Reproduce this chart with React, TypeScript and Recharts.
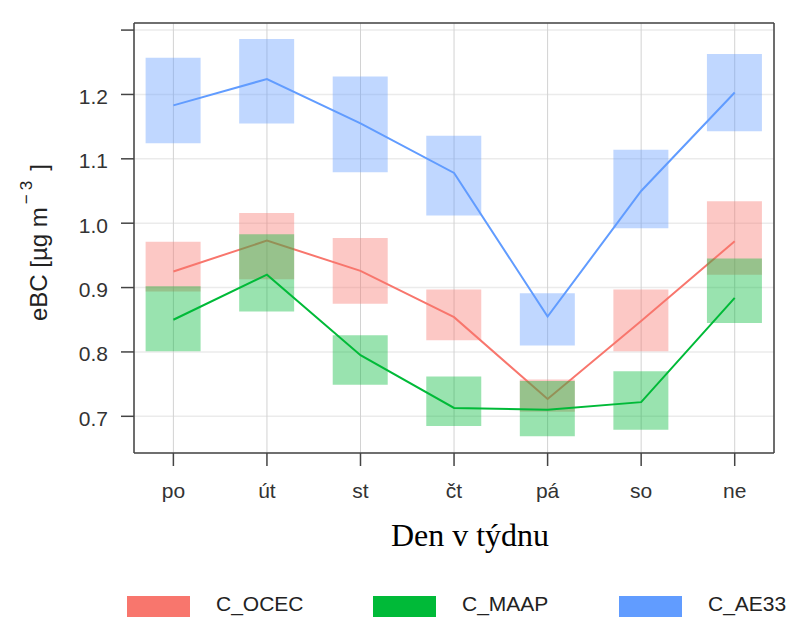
import React from "react";
import {
  ComposedChart,
  Bar,
  Line,
  XAxis,
  YAxis,
  CartesianGrid,
} from "recharts";

// weekday labels (Czech) and their positions on the numeric axis
const days = ["po", "út", "st", "čt", "pá", "so", "ne"];
const dayIdx = [1, 2, 3, 4, 5, 6, 7];

// C_OCEC: mean and confidence box
const ocecMean = [0.925, 0.973, 0.926, 0.854, 0.727, 0.848, 0.972];
const ocecLow = [0.894, 0.913, 0.875, 0.818, 0.707, 0.801, 0.92];
const ocecHigh = [0.971, 1.016, 0.977, 0.897, 0.757, 0.897, 1.034];

// C_MAAP
const maapMean = [0.85, 0.92, 0.795, 0.713, 0.71, 0.722, 0.884];
const maapLow = [0.801, 0.863, 0.749, 0.685, 0.669, 0.679, 0.845];
const maapHigh = [0.902, 0.983, 0.826, 0.762, 0.755, 0.77, 0.945];

// C_AE33
const ae33Mean = [1.183, 1.224, 1.155, 1.078, 0.855, 1.05, 1.203];
const ae33Low = [1.124, 1.155, 1.079, 1.012, 0.81, 0.992, 1.143];
const ae33High = [1.257, 1.286, 1.228, 1.136, 0.891, 1.114, 1.263];

const yTicks = [0.7, 0.8, 0.9, 1.0, 1.1, 1.2, 1.3];

const seriesNames = ["C_OCEC", "C_MAAP", "C_AE33"];
const seriesColors = ["#F8766D", "#00BA38", "#619CFF"];

const xDomain = [0.579, 7.42];
const yDomain = [0.643, 1.311];

const data = days.map((d, i) => ({
  day: dayIdx[i],
  ocec: ocecMean[i],
  ocecBox: [ocecLow[i], ocecHigh[i]],
  maap: maapMean[i],
  maapBox: [maapLow[i], maapHigh[i]],
  ae33: ae33Mean[i],
  ae33Box: [ae33Low[i], ae33High[i]],
}));

const FONT = "'Liberation Sans', Arial, sans-serif";
const FRAME = "#444";

const App = () => {
  const tickStyle = { fontSize: 21, fill: "#333", fontFamily: FONT };

  return (
    <div style={{ position: "relative", width: 791, height: 619 }}>
      <style>{`body { margin: 0; }`}</style>
      <ComposedChart
        width={791}
        height={619}
        data={data}
        margin={{ top: 10, right: 3, bottom: 126, left: 54 }}
      >
        <CartesianGrid horizontal={true} vertical={false} stroke="#ebebeb" strokeWidth={1.5} />
        <CartesianGrid horizontal={false} vertical={true} stroke="#d2d2d2" strokeWidth={1} />

        <XAxis
          type="number"
          dataKey="day"
          domain={xDomain}
          ticks={dayIdx}
          interval={0}
          allowDataOverflow
          height={40}
          tickSize={13}
          tickMargin={17}
          tickFormatter={(v: number) => days[v - 1]}
          tick={tickStyle}
          axisLine={{ stroke: FRAME, strokeWidth: 1.5 }}
          tickLine={{ stroke: FRAME, strokeWidth: 1.5 }}
        />
        <XAxis
          xAxisId="top"
          orientation="top"
          type="number"
          dataKey="day"
          domain={xDomain}
          ticks={dayIdx}
          interval={0}
          allowDataOverflow
          height={13}
          tickSize={13}
          tick={false}
          axisLine={{ stroke: FRAME, strokeWidth: 1.5 }}
          tickLine={{ stroke: FRAME, strokeWidth: 1.5 }}
        />
        {/* hidden copies so the three box series overlap instead of sitting side by side */}
        <XAxis xAxisId="b1" type="number" dataKey="day" domain={xDomain} ticks={dayIdx} allowDataOverflow hide />
        <XAxis xAxisId="b2" type="number" dataKey="day" domain={xDomain} ticks={dayIdx} allowDataOverflow hide />
        <XAxis xAxisId="b3" type="number" dataKey="day" domain={xDomain} ticks={dayIdx} allowDataOverflow hide />

        <YAxis
          type="number"
          domain={yDomain}
          ticks={yTicks}
          interval={0}
          allowDataOverflow
          width={80}
          tickSize={13}
          tickMargin={13}
          tickFormatter={(v: number) => (v > 1.25 ? "" : v.toFixed(1))}
          tick={{ ...tickStyle, dy: 2 }}
          axisLine={{ stroke: FRAME, strokeWidth: 1.5 }}
          tickLine={{ stroke: FRAME, strokeWidth: 1.5 }}
        />
        <YAxis
          yAxisId="right"
          orientation="right"
          type="number"
          domain={yDomain}
          ticks={yTicks}
          interval={0}
          allowDataOverflow
          width={14}
          tickSize={13}
          tick={false}
          axisLine={{ stroke: FRAME, strokeWidth: 1.5 }}
          tickLine={{ stroke: FRAME, strokeWidth: 1.5 }}
        />

        <Bar xAxisId="b1" dataKey="ocecBox" fill={seriesColors[0]} fillOpacity={0.4} barSize={55} isAnimationActive={false} zIndex={301} />
        <Line dataKey="ocec" type="linear" stroke={seriesColors[0]} strokeWidth={2} dot={false} activeDot={false} isAnimationActive={false} zIndex={302} />
        <Bar xAxisId="b2" dataKey="maapBox" fill={seriesColors[1]} fillOpacity={0.4} barSize={55} isAnimationActive={false} zIndex={303} />
        <Line dataKey="maap" type="linear" stroke={seriesColors[1]} strokeWidth={2} dot={false} activeDot={false} isAnimationActive={false} zIndex={304} />
        <Bar xAxisId="b3" dataKey="ae33Box" fill={seriesColors[2]} fillOpacity={0.4} barSize={55} isAnimationActive={false} zIndex={305} />
        <Line dataKey="ae33" type="linear" stroke={seriesColors[2]} strokeWidth={2} dot={false} activeDot={false} isAnimationActive={false} zIndex={306} />
      </ComposedChart>

      {/* axis titles and legend */}
      <svg
        width={791}
        height={619}
        style={{ position: "absolute", left: 0, top: 0, pointerEvents: "none" }}
      >
        <text
          transform="translate(47, 321) rotate(-90)"
          fontFamily={FONT}
          fontSize={24}
          fill="#222"
        >
          eBC [µg m
          <tspan fontSize={17} dx={3} dy={-15}>−</tspan>
          <tspan fontSize={17} dx={4}>3</tspan>
          <tspan fontSize={24} dx={10} dy={15}>]</tspan>
        </text>
        <text
          x={470}
          y={546}
          textAnchor="middle"
          fontFamily="'Liberation Serif', 'Times New Roman', serif"
          fontSize={32}
          fill="#000"
        >
          Den v týdnu
        </text>
        {seriesNames.map((name, i) => (
          <g key={name}>
            <rect x={127 + i * 246} y={596} width={63} height={21} fill={seriesColors[i]} />
            <text x={216 + i * 246} y={611} fontFamily={FONT} fontSize={21} fill="#222">
              {name}
            </text>
          </g>
        ))}
      </svg>
    </div>
  );
};

export default App;
